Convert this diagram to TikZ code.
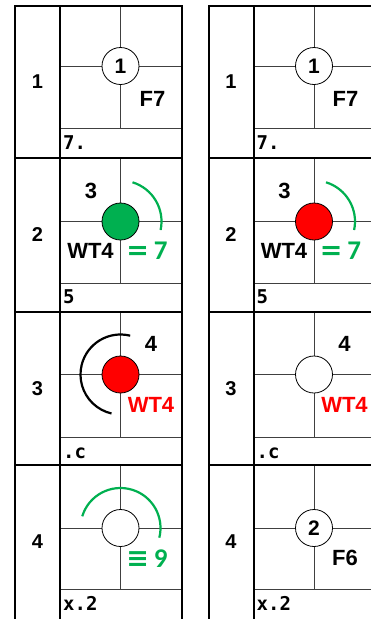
\documentclass[tikz,border=0pt]{standalone}
\usepackage{fontspec}
\setmainfont{Liberation Sans}
\newfontfamily\codefont{DejaVu Sans Mono}
\newfontfamily\symfont{DejaVu Sans}
\newfontfamily\numfont{Carlito}
\definecolor{okgreen}{HTML}{00B050}
\definecolor{stopred}{HTML}{FF0000}

\begin{document}
\begin{tikzpicture}[x=1pt,y=-1pt,
    every node/.style={inner sep=0pt,font=\bfseries},
    frame/.style={line width=2pt},
    grid/.style={line width=0.8pt,black!75},
    spot/.style={circle,draw,line width=0.8pt,fill=white,minimum size=37pt,font=\fontsize{21}{21}\selectfont\bfseries},
    rowno/.style={font=\fontsize{20}{20}\selectfont\bfseries},
    tag/.style={font=\fontsize{22}{22}\selectfont\bfseries},
    count/.style={text=okgreen,font=\fontsize{27}{27}\selectfont\bfseries},
    code/.style={anchor=base west,font=\codefont\fontsize{19}{19}\selectfont\bfseries},
    ring/.style={line width=2.2pt}]
  \useasboundingbox (0,0) rectangle (371,619);
  % cell grids, left table
  \draw[grid] (120.5,6) -- (120.5,128) (60,66) -- (181.5,66) (60,128) -- (181.5,128);
  \draw[grid] (120.5,158) -- (120.5,283) (60,221.5) -- (181.5,221.5) (60,283) -- (181.5,283);
  \draw[grid] (120.5,312) -- (120.5,437) (60,374.5) -- (181.5,374.5) (60,437) -- (181.5,437);
  \draw[grid] (120.5,465) -- (120.5,589) (60,528) -- (181.5,528) (60,589) -- (181.5,589);
  % cell grids, right table
  \draw[grid] (314,6) -- (314,128) (253.5,66) -- (371,66) (253.5,128) -- (371,128);
  \draw[grid] (314,158) -- (314,283) (253.5,221.5) -- (371,221.5) (253.5,283) -- (371,283);
  \draw[grid] (314,312) -- (314,437) (253.5,374.5) -- (371,374.5) (253.5,437) -- (371,437);
  \draw[grid] (314,465) -- (314,589) (253.5,528) -- (371,528) (253.5,589) -- (371,589);
  % frames
  \draw[frame] (15,619) -- (15,6) -- (181.5,6) -- (181.5,619);
  \draw[frame] (60,6) -- (60,619);
  \draw[frame] (15,158) -- (181.5,158) (15,312) -- (181.5,312) (15,465) -- (181.5,465);
  \draw[frame] (208.5,619) -- (208.5,6) -- (371,6);
  \draw[frame] (253.5,6) -- (253.5,619);
  \draw[frame] (208.5,158) -- (371,158) (208.5,312) -- (371,312) (208.5,465) -- (371,465);

  % left table
  \node[rowno] (lno1) at (37.5,82) {1};
  \node[spot] (lspot1) at (120.5,66) {1};
  \node[tag] (lsig1) at (152.5,99) {F7};
  \node[code] (lcode1) at (63,149) {7.};

  \node[rowno] (lno2) at (37.5,235) {2};
  \node[spot,fill=okgreen] (lspot2) at (120.5,221.5) {};
  \node[tag] (ltop2) at (91,190.5) {3};
  \node[tag] (lsig2) at (90.5,251) {WT4};
  \node[count] (lcnt2) at (147,250.5) {{\symfont =}\hspace{5pt}{\numfont 7}};
  \node[code] (lcode2) at (63,303) {5};
  \draw[ring,okgreen] (lspot2.center) ++(-73:41) arc[start angle=-73,end angle=12,radius=41];

  \node[rowno] (lno3) at (37.5,388.5) {3};
  \node[spot,fill=stopred] (lspot3) at (120.5,374.5) {};
  \node[tag] (ltop3) at (151,343.5) {4};
  \node[tag,text=stopred] (lsig3) at (151,405) {WT4};
  \node[code] (lcode3) at (63,458) {.c};
  \draw[ring] (lspot3.center) ++(-76:40) arc[start angle=-76,end angle=-257,radius=40];

  \node[rowno] (lno4) at (37.5,542) {4};
  \node[spot] (lspot4) at (120.5,528) {};
  \node[count] (lcnt4) at (147,559) {{\symfont ≡}\hspace{5pt}{\numfont 9}};
  \node[code] (lcode4) at (63,610.5) {x.2};
  \draw[ring,okgreen] (lspot4.center) ++(-163:40) arc[start angle=-163,end angle=14,radius=40];

  % right table
  \node[rowno] (rno1) at (231,82) {1};
  \node[spot] (rspot1) at (314,66) {1};
  \node[tag] (rsig1) at (345.5,99) {F7};
  \node[code] (rcode1) at (256.5,149) {7.};

  \node[rowno] (rno2) at (231,235) {2};
  \node[spot,fill=stopred] (rspot2) at (314,221.5) {};
  \node[tag] (rtop2) at (284.5,190.5) {3};
  \node[tag] (rsig2) at (284,251) {WT4};
  \node[count] (rcnt2) at (340.5,250.5) {{\symfont =}\hspace{5pt}{\numfont 7}};
  \node[code] (rcode2) at (256.5,303) {5};
  \draw[ring,okgreen] (rspot2.center) ++(-73:41) arc[start angle=-73,end angle=12,radius=41];

  \node[rowno] (rno3) at (231,388.5) {3};
  \node[spot] (rspot3) at (314,374.5) {};
  \node[tag] (rtop3) at (344.5,343.5) {4};
  \node[tag,text=stopred] (rsig3) at (344.5,405) {WT4};
  \node[code] (rcode3) at (256.5,458) {.c};

  \node[rowno] (rno4) at (231,542) {4};
  \node[spot] (rspot4) at (314,528) {2};
  \node[tag] (rsig4) at (345,558) {F6};
  \node[code] (rcode4) at (256.5,610.5) {x.2};
\end{tikzpicture}
\end{document}
